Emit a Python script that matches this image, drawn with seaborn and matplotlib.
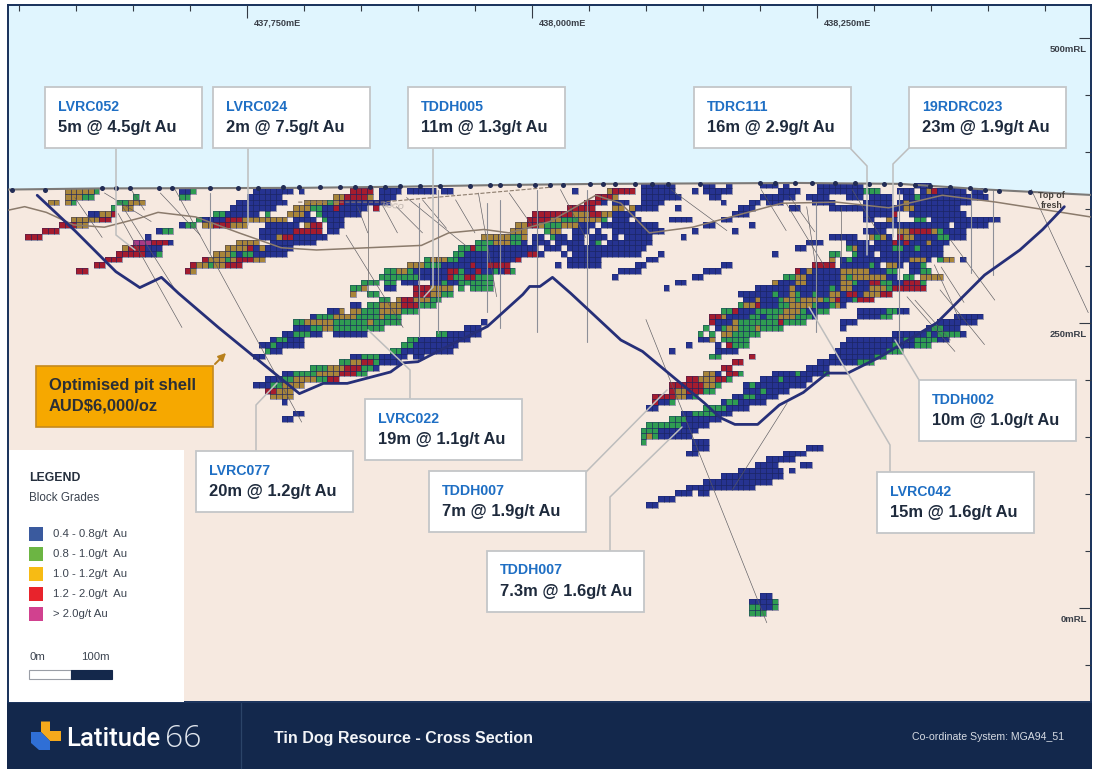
"""
Tin Dog resource cross section: block grades, pit shell, drill traces and callouts.
"""
import numpy as np
import pandas as pd
import matplotlib
matplotlib.use('Agg')
import matplotlib.pyplot as plt
from matplotlib.collections import PolyCollection
from matplotlib.colors import ListedColormap
from matplotlib.patches import Polygon, Rectangle
from matplotlib.ticker import MultipleLocator
import seaborn as sns

W, H = 1101, 779

# ── section scale (mE / mRL), 5 m blocks ──
E_LEFT, E_RIGHT = 437540.4, 438490.4
RL_TOP, RL_BOTTOM = 528.9, -82.5
BLOCK_E0 = 437540.4
BLOCK_RL0 = 344.0
N_COLS, N_ROWS = 190, 78
ROW_SHIFT = 2

GRADE_CODES = 'bgorm'
GRADE_LABELS = ['0.4 - 0.8g/t  Au', '0.8 - 1.0g/t  Au', '1.0 - 1.2g/t  Au',
                '1.2 - 2.0g/t  Au', '> 2.0g/t Au']
BLOCK_COLORS = ['#263391', '#2f9c52', '#a8853a', '#a51c2e', '#a83a86']
LEGEND_COLORS = ['#3a5a9e', '#6cb543', '#f7bb14', '#e8232c', '#d1418f']

# ── blocks: (row, first column, grades; "." = no block) ──
lens_far_west = [
    (0, 10, 'ooooog'), (1, 10, 'ooogg'), (1, 22, 'g'), (2, 7, 'oo.og'), (2, 19, 'ggooo'),
    (3, 18, 'g.oo'), (4, 14, 'bboor'), (5, 11, 'ooooorr'), (6, 9, 'rrroo'),
    (7, 6, 'rrr'), (8, 3, 'rrr'),
    (7, 26, 'bgg'), (8, 24, 'b'), (9, 22, 'mmmrrrb'), (10, 20, 'orrrbbb'),
    (11, 19, 'rrrrrbbg'), (12, 17, 'rrr'), (13, 15, 'rr'), (14, 12, 'rr'),
]
lens_hanging_wall = [
    (0, 30, 'bbg'), (0, 43, 'bbbbbbb.b'), (0, 60, 'rrrr'), (0, 65, 'bbbb'), (0, 70, 'bbbbb.bb'),
    (1, 30, 'gg'), (1, 42, 'bbbbbb'), (1, 57, 'oorrrro'), (1, 65, 'bbb'),
    (2, 40, 'bbbbbbbbb'), (2, 52, 'oooogorbbbbbbbb'),
    (3, 39, 'bbbbbbbb'), (3, 50, 'oooggbbrbbbbb.r'),
    (4, 36, 'gg'), (4, 38, 'bbbbbb.g'), (4, 49, 'ooob.gbbbbbbb'),
    (5, 33, 'gbbbb'), (5, 38, 'rrrooo'), (5, 44, 'ooooo'), (5, 50, 'bbbb.gbbb'),
    (6, 30, 'bgg'), (6, 34, 'oorrr'), (6, 39, 'ooo'), (6, 45, 'bbbbbb'), (6, 52, 'orr'), (6, 56, 'bbb'),
    (7, 44, 'bbbbbb'), (7, 50, 'rrrrr'), (7, 56, 'bb'),
    (8, 44, 'bbb'), (8, 47, 'orr'), (8, 50, 'bbbbbb'),
    (9, 40, 'oooo'), (9, 46, 'bbbbbbbb'),
    (10, 38, 'oooorb'), (10, 44, 'obbbbb'),
    (11, 36, 'ooogbggbbbbbb'), (12, 34, 'rooogorrroo'), (13, 32, 'roogoorrr'), (14, 31, 'ro'),
]
lens_main_west = [
    (0, 105, 'orrrr'), (1, 103, 'rrro'), (2, 101, 'rrrb'), (2, 106, 'bbb'),
    (3, 98, 'rrrrr'), (3, 106, 'oo'), (3, 109, 'o'),
    (4, 92, 'rrrrrrrooorr'), (4, 104, 'oo'), (4, 106, 'bbbb'),
    (5, 91, 'rrrroogggoooog'), (5, 106, 'bbb'),
    (6, 89, 'oorrogggooobbb.bb'), (6, 106, 'bbbbbbbb'),
    (7, 88, 'ooo'), (7, 94, 'goo'), (7, 99, 'bbb.b'), (7, 106, 'bbbbbbbbb'),
    (8, 83, 'oooooggo'), (8, 92, 'bb'), (8, 95, 'gbb.bb.bbb.b'), (8, 108, 'bbbbb'),
    (9, 82, 'gggoooggb.bbb.bbbbb.b'), (9, 103, 'g'), (9, 105, 'bbbbbbbb'),
    (10, 79, 'ggrggbbbbbbbbb.bbb.bbbbbbbbbbbbbb'),
    (11, 78, 'ggbbbbbbbbbbbrrb'), (11, 97, 'b.bbbbbbbbbbbb'), (11, 114, 'b'),
    (12, 73, 'goooggbbbbbbbbbbr'), (12, 98, 'bbbbbb'), (12, 112, 'bb'),
    (13, 70, 'ooogggbbbbbrbbrrrr'), (13, 96, 'b'), (13, 98, 'bbbbbb'), (13, 110, 'bb'), (13, 125, 'bb'),
    (14, 66, 'ggoogbbbbbbrrgbbrbbgbrg'), (14, 107, 'bbbb'), (14, 122, 'bbb'),
    (15, 65, 'gggggggbbbbbrggrrggg'), (15, 106, 'b'), (15, 120, 'bb'),
    (16, 62, 'ggg.gg.bbb..bbgbbgggggg'), (16, 117, 'bb'),
    (17, 60, 'ggo...bb...rrroooo.g.gggg'), (17, 115, 'b'),
    (18, 60, 'o'), (18, 63, 'gg'), (18, 71, 'rrroogg'),
    (19, 65, 'gg.orrooogg..'),
    (20, 60, 'bb.ggoooorrrggg'), (21, 56, 'bbo.oogggooooggg'),
    (22, 53, 'bgggooooggggoggg'), (23, 50, 'ggoooooggggggoggggg'),
    (24, 50, 'bbbggooggggggggg'), (25, 48, 'bbgggbb..bbbbbb'),
    (26, 46, 'bggbbb'), (27, 44, 'bbgbbbbb'), (28, 45, 'gbb'), (29, 43, 'bb'),
]
lens_footwall_west = [
    (23, 83, 'b'), (24, 80, 'bbb'), (25, 75, 'ggbbbbbb'), (26, 70, 'ggbbbbbbbbb'),
    (27, 69, 'ggbbbbbbbb'), (28, 67, 'ggbbbbbbbbb'), (29, 60, 'bbgggbbbbb.bb'),
    (30, 58, 'ggoorrgbbbb'), (31, 53, 'gggooorrrggb'), (32, 48, 'bbggggoooorrrgg'),
    (33, 45, 'bbbggooooggrr'), (34, 43, 'bbbggoooo'), (35, 45, 'rrooo'), (36, 46, 'oooo'),
    (37, 48, 'b'), (39, 50, 'bb'), (40, 48, 'bb'),
]
zone_east_top = [
    (-1, 111, 'bbbbbb'), (-1, 122, 'bb'), (-1, 126, 'b'), (-1, 132, 'bbb'), (-1, 136, 'b'),
    (-1, 142, 'bbbbbbbb'), (-1, 159, 'bbb'),
    (0, 99, 'b'), (0, 111, 'bbbbbb'), (0, 120, 'b'), (0, 122, 'bbbbb'), (0, 135, 'bbbb'),
    (0, 142, 'bbbbbbbb'), (0, 150, 'ggg'), (0, 156, 'bbb'), (0, 160, 'bor'), (0, 163, 'bbbbb.bb'),
    (1, 111, 'bbbbbb'), (1, 117, 'b'), (1, 123, 'bb'), (1, 132, 'bbbbbb'), (1, 140, 'bbbb'),
    (1, 147, 'bbb.b'), (1, 151, 'bbbb'), (1, 157, 'bbgbb'), (1, 162, 'bbbbbbbbbb'),
    (2, 106, 'bbb'), (2, 111, 'bbbb'), (2, 125, 'b'), (2, 130, 'bb'), (2, 133, 'bbb'),
    (2, 141, 'bbbb'), (2, 150, 'bbbbb.bbo'), (2, 157, 'ob'), (2, 159, 'bbbbbbb'), (2, 166, 'bbb'),
    (3, 110, 'bbbb'), (3, 117, 'b'), (3, 128, 'bbb'), (3, 137, 'bb'), (3, 144, 'bbbbbbb'),
    (3, 151, 'bbbbbb'), (3, 157, 'oo'), (3, 159, 'bbbbbbbb'),
    (4, 106, 'bbbb'), (4, 127, 'bbb'), (4, 150, 'bbbbb'), (4, 155, 'r'), (4, 158, 'bbbbbbbbbb'),
    (5, 106, 'bb'), (5, 110, 'b'), (5, 116, 'bbbb'), (5, 125, 'bb'), (5, 150, 'bb'), (5, 154, 'ob'),
    (5, 159, 'gg'), (5, 162, 'bbbbbbbb'), (5, 170, 'bbbb'),
    (6, 122, 'bb'), (6, 130, 'b'), (6, 152, 'bbbbbbbbbbbbb'), (6, 166, 'bbbbbb'),
    (7, 120, 'b'), (7, 127, 'b'), (7, 150, 'bbbb'), (7, 156, 'oorrrrog'), (7, 164, 'bbbb'),
    (8, 118, 'b'), (8, 144, 'bbbbb'), (8, 151, 'ogob'), (8, 156, 'roobbbb'), (8, 163, 'ggbbb'),
    (9, 140, 'bbb'), (9, 147, 'bbbb'), (9, 152, 'bbb'), (9, 155, 'rbrbbbob'), (9, 163, 'bb'),
    (10, 138, 'bb'), (10, 147, 'gobb'), (10, 151, 'bbbbggbbgbbbb'),
    (11, 134, 'b'), (11, 144, 'gg'), (11, 148, 'gbbb'), (11, 153, 'bbbbbbbbbb'), (11, 163, 'b'),
]
lens_main_east = [
    (12, 144, 'o.bgbbbbbbbbbbooob.g'), (12, 164, 'oo'), (12, 167, 'b'),
    (13, 141, 'rrrr.bbbbbgb.oob.bbg'), (14, 138, 'rbobbbbbooooobbbgg..bbgg'),
    (15, 136, 'ggoobbbbbbogoooooobb.gg.oooo'),
    (16, 134, 'obbboobbbbbboogbbrrggbbrrrg'),
    (17, 131, 'bbbbbbobbbbbbgboobbbooogrrrrrr'),
    (18, 128, 'bbbbbbgbbogbbgbboobrrbooorr'),
    (19, 129, 'bbobbbgoogoooogorbbgrrr'),
    (20, 128, 'goorbbbggoooogbbgob'),
    (21, 125, 'ggrbbbgggggooogbbgg'), (21, 149, 'bbbbbggbb'),
    (22, 123, 'rrobbbbggbggooogggb'), (22, 149, 'bbbbgg'),
    (23, 123, 'rbbbogggggggrgggg'), (23, 146, 'bbb'),
    (24, 122, 'g.bgoogggogggg'), (24, 146, 'b'),
    (25, 121, 'g.g.ooggggg'), (26, 121, 'bbo.ggggg'),
    (27, 124, 'b.rggg'), (27, 119, 'b'), (28, 124, 'bbbb'), (28, 116, 'b'), (29, 123, 'gg'),
]
lens_red_pod = [
    (29, 130, 'r'), (30, 127, 'rr'), (31, 125, 'rr'), (32, 122, 'oob.rrg'),
    (33, 119, 'rrooorrg'), (34, 116, 'rrrrrroog'), (35, 116, 'roorrrgg'),
    (36, 113, 'rrrroobg'), (37, 113, 'rbbg'), (38, 112, 'bb'),
]
lens_footwall_east = [
    (22, 166, 'bbbbb'), (23, 163, 'bbbbbbb'), (24, 161, 'bggbbb'), (25, 155, 'bbbbbbgbggggb'),
    (26, 147, 'bbbbbbbbbbgbggggbb'), (27, 146, 'bbbbbbbbbgbbbggg'), (28, 145, 'bbbbbbbbbggg'),
    (29, 144, 'bbbbbbbbgg'), (30, 142, 'bbbbbbbggg'), (31, 140, 'bbbb'), (32, 134, 'bbbbgbbbbg'),
    (33, 132, 'bbbgbbbbb'), (34, 129, 'bgbbbbbbbbb'), (35, 129, 'bbbgbbbb'), (36, 127, 'bbggbbbb'),
    (37, 125, 'bggbbbbb'), (38, 122, 'ggggbbbb'), (39, 118, 'bbggggbbb'), (40, 116, 'gggbbbbbb'),
    (41, 112, 'ggggggbbbbb'), (42, 111, 'gggbbbbbbb'), (43, 111, 'gogbbbbbb'), (44, 111, 'g'),
    (44, 120, 'bbb'), (45, 120, 'bbb'), (46, 119, 'bb'),
]
lens_deep = [
    (45, 140, 'bbb'), (46, 136, 'bbbb'), (47, 133, 'bbbbb'), (48, 131, 'bbbb'), (48, 139, 'bb'),
    (49, 128, 'bbbbbbbb'), (49, 137, 'b'), (50, 125, 'bbbbbbbbbbb'), (51, 122, 'bbbbbbbbbbbb'),
    (52, 119, 'bbbbbbbbbbbb'), (53, 117, 'bbb'), (53, 121, 'bb'), (54, 114, 'bbb'), (55, 112, 'bb'),
    (71, 132, 'bb'), (72, 130, 'bbbbg'), (73, 130, 'ggbbg'), (74, 130, 'ggg'),
]
ALL_LENSES = [lens_far_west, lens_hanging_wall, lens_main_west, lens_footwall_west,
              zone_east_top, lens_main_east, lens_red_pod, lens_footwall_east, lens_deep]

# ── section lines ──
pit_e = [437566, 437599, 437635, 437656, 437675, 437690, 437725, 437796, 437817, 437838,
         437876, 437887, 437900, 437931, 437961, 437992, 437998, 438007, 438018, 438034,
         438078, 438097, 438151, 438165, 438178, 438198, 438217, 438238, 438259, 438277,
         438305, 438355, 438397, 438428, 438448, 438467]
pit_rl = [362, 331, 295, 281, 290, 276, 246, 188, 197, 197,
          207, 215, 216, 232, 247, 275, 282, 282, 290, 276,
          235, 225, 180, 167, 161, 161, 178, 189, 206, 206,
          220, 250, 292, 314, 332, 352]
surface_e = [437540, 437621, 437796, 437884, 437972, 438060, 438235, 438323, 438399, 438490]
surface_rl = [367, 368, 368.5, 369.5, 371, 372, 372.8, 372, 367, 362.3]
fresh_e = [437541, 437555, 437574, 437598, 437625, 437656, 437672, 437705, 437743, 437780,
           437811, 437903, 437927, 437958, 437980, 438016, 438056, 438078, 438103, 438141,
           438219, 438267, 438313, 438360, 438407, 438490]
fresh_rl = [349, 352, 347, 336, 334, 342, 347, 343, 329, 316,
            314, 318, 329, 332, 329, 339, 362, 355, 329, 334,
            355, 356, 351, 362, 356, 343]
boco_e = [437795, 437868, 438016]
boco_rl = [356, 356, 369]

collar_e = [437544, 437573, 437623, 437635, 437647, 437673, 437684, 437718, 437742, 437760,
            437782, 437796, 437814, 437832, 437845, 437858, 437871, 437884, 437902, 437919,
            437946, 437963, 437972, 437989, 438003, 438016, 438027, 438051, 438062, 438073,
            438090, 438105, 438119, 438147, 438200, 438213, 438231, 438246, 438266, 438283,
            438296, 438309, 438323, 438336, 438349, 438367, 438384, 438397, 438410, 438437]
collar_rl = [367, 367, 368, 368, 368, 368, 368, 368, 368, 368,
             369, 369, 369, 369, 369, 369, 369, 370, 370, 370,
             370, 371, 371, 371, 371, 371, 371, 372, 372, 372,
             372, 372, 372, 372, 373, 373, 373, 373, 373, 373,
             372, 372, 372, 371, 370, 369, 368, 367, 366, 365]

# dark thin drill traces: collar and toe
hole_e0 = [437599, 437625, 437637, 437649, 437641, 437687, 437674, 437881, 437868, 437847,
           437837, 437953, 437904, 437933, 437980, 437890, 438025, 438100, 438122, 438201,
           438223, 438241, 438271, 438438, 438329, 438359, 438224, 437856,
           438226, 438281, 438353, 438367, 438358, 438336]
hole_rl0 = [360, 364, 346, 366, 352, 367, 364, 352, 355, 352,
            327, 364, 358, 358, 364, 360, 367, 253, 367, 367,
            355, 352, 352, 367, 273, 299, 180, 355,
            361, 367, 301, 323, 279, 270]
hole_e1 = [437623, 437666, 437693, 437660, 437687, 437798, 437709, 437904, 437882, 437856,
           437887, 437969, 437925, 437950, 438001, 437943, 438047, 438206, 438171, 438223,
           438257, 438249, 438271, 438488, 438371, 438379, 438176, 437856,
           438248, 438305, 438375, 438406, 438397, 438367]
hole_rl1 = [325, 339, 246, 349, 279, 163, 327, 329, 329, 329,
            246, 273, 333, 329, 334, 317, 325, -13, 331, 331,
            299, 299, 303, 259, 225, 268, 104, 273,
            330, 327, 253, 270, 231, 235]
# grey vertical traces
grey_e = [437718, 437901, 437918, 437961, 437972, 438004, 438048, 438249, 438322, 438385, 438404]
grey_rl0 = [364, 355, 367, 355, 358, 367, 367, 355, 367, 367, 367]
grey_rl1 = [311, 238, 241, 260, 246, 242, 233, 242, 232, 294, 292]

# ── callouts ──
callout_ids = ['LVRC052', 'LVRC024', 'TDDH005', 'TDRC111', '19RDRC023', 'LVRC022',
               'LVRC077', 'TDDH002', 'LVRC042', 'TDDH007', 'TDDH007']
callout_values = ['5m @ 4.5g/t Au', '2m @ 7.5g/t Au', '11m @ 1.3g/t Au', '16m @ 2.9g/t Au',
                  '23m @ 1.9g/t Au', '19m @ 1.1g/t Au', '20m @ 1.2g/t Au', '10m @ 1.0g/t Au',
                  '15m @ 1.6g/t Au', '7m @ 1.9g/t Au', '7.3m @ 1.6g/t Au']
callout_left = [45, 213, 408, 694, 909, 365, 196, 919, 877, 429, 487]
callout_top = [87, 87, 87, 87, 87, 399, 451, 380, 472, 471, 551]
leader_x = [[116, 116, 135], [248, 248], [433, 433, 424], [850, 867, 867], [909, 893, 893],
            [410, 410, 368], [256, 256, 277], [919, 895], [890, 890, 809], [585, 667], [610, 610, 682]]
leader_y = [[148, 235, 250], [148, 225], [148, 287, 297], [148, 166, 255], [148, 164, 237],
            [399, 370, 330], [451, 405, 383], [380, 340], [472, 445, 307], [473, 390], [551, 497, 427]]


def px_axes(fig, left, top, right, bottom, **kw):
    return fig.add_axes([left / W, 1 - bottom / H, (right - left) / W, (bottom - top) / H], **kw)


def build_grid():
    grid = np.full((N_ROWS, N_COLS), np.nan)
    for lens in ALL_LENSES:
        for row, col, codes in lens:
            for i, code in enumerate(codes):
                if code != '.' and col + i < N_COLS:
                    grid[row + ROW_SHIFT, col + i] = GRADE_CODES.index(code)
    rl = BLOCK_RL0 + 5 * (ROW_SHIFT - np.arange(N_ROWS))
    e = BLOCK_E0 + 5 * np.arange(N_COLS)
    return pd.DataFrame(grid, index=rl, columns=e)


sns.set_theme(style='white')
plt.rcParams['font.family'] = ['Liberation Sans', 'DejaVu Sans']

fig = plt.figure(figsize=(W / 100, H / 100), dpi=100, facecolor='white')

# background section: sky, ground, graticule
ax = px_axes(fig, 8, 5, 1091, 702, zorder=1)
ax.set_facecolor('#f6e9e0')
ax.set_axisbelow(False)
ax.set_xlim(E_LEFT, E_RIGHT)
ax.set_ylim(RL_BOTTOM, RL_TOP)
ax.fill_between(surface_e, surface_rl, RL_TOP, color='#e0f5fe', lw=0)
ax.xaxis.set_major_locator(MultipleLocator(250))
ax.xaxis.set_minor_locator(MultipleLocator(50))
ax.yaxis.set_major_locator(MultipleLocator(250))
ax.yaxis.set_minor_locator(MultipleLocator(50))
ax.xaxis.set_ticks_position('top')
ax.yaxis.set_ticks_position('right')
ax.tick_params(axis='both', which='both', direction='in', color='#333a44', width=0.8,
               labeltop=False, labelbottom=False, labelleft=False, labelright=False)
ax.tick_params(axis='both', which='major', length=9)
ax.tick_params(axis='both', which='minor', length=4)
for spine in ax.spines.values():
    spine.set_color('#17305a')
    spine.set_linewidth(1.4)
for easting in [437750, 438000, 438250]:
    ax.annotate(f'{easting:,}mE', (easting, RL_TOP), xytext=(5, -15), textcoords='offset points',
                fontsize=6.6, fontweight='bold', color='#3a3f48')
for level in [500, 250, 0]:
    ax.annotate(f'{level}mRL', (E_RIGHT, level), xytext=(-3, -8.5), textcoords='offset points',
                fontsize=6.8, fontweight='bold', color='#3a3f48', ha='right', va='center')

# 5 m block model
ax_blocks = px_axes(fig, 8, 188.3 - 5.7 * ROW_SHIFT, 8 + 5.7 * N_COLS,
                    188.3 + 5.7 * (N_ROWS - ROW_SHIFT), zorder=2)
grid_df = build_grid()
sns.heatmap(grid_df, ax=ax_blocks, cmap=ListedColormap(BLOCK_COLORS), vmin=-0.5, vmax=4.5,
            cbar=False, xticklabels=False, yticklabels=False)
ax_blocks.patch.set_alpha(0)
ax_blocks.set_xlabel('')
ax_blocks.set_ylabel('')
# dark outline only on the cells that hold a block
rows, cols = np.nonzero(grid_df.notna().to_numpy())
outlines = [[(c, r), (c + 1, r), (c + 1, r + 1), (c, r + 1)] for r, c in zip(rows, cols)]
ax_blocks.add_collection(PolyCollection(outlines, facecolors='none', edgecolors='#1c2560',
                                        linewidths=0.4, alpha=0.75))

# lines over the blocks
ax_lines = px_axes(fig, 8, 5, 1091, 702, zorder=3)
ax_lines.patch.set_alpha(0)
ax_lines.set_axis_off()
for x0, y0, x1, y1 in zip(hole_e0, hole_rl0, hole_e1, hole_rl1):
    ax_lines.plot([x0, x1], [y0, y1], color='#5a5a60', lw=0.45)
for x0, y0, y1 in zip(grey_e, grey_rl0, grey_rl1):
    ax_lines.plot([x0, x0], [y0, y1], color='#8d8f98', lw=0.8)
sns.lineplot(x=fresh_e, y=fresh_rl, sort=False, estimator=None, ax=ax_lines, color='#8b7b6c', lw=1.1)
sns.lineplot(x=boco_e, y=boco_rl, sort=False, estimator=None, ax=ax_lines, color='#8b7b6c', lw=0.8, ls='--')
sns.lineplot(x=surface_e, y=surface_rl, sort=False, estimator=None, ax=ax_lines, color='#7d7a78', lw=1.5)
sns.lineplot(x=pit_e, y=pit_rl, sort=False, estimator=None, ax=ax_lines, color='#262f78', lw=2.0)
sns.scatterplot(x=collar_e, y=collar_rl, ax=ax_lines, s=13, color='#222c55', linewidth=0, zorder=6)
ax_lines.set_xlim(E_LEFT, E_RIGHT)
ax_lines.set_ylim(RL_BOTTOM, RL_TOP)
ax_lines.text(437878, 352, 'BOCO', fontsize=5.5, color='#b5aca6', rotation=-6, ha='center', va='center',
              fontstyle='italic')
ax_lines.text(438456, 357.5, 'Top of\nfresh', fontsize=6.4, color='#44403c', ha='center', va='center',
              fontweight='bold', linespacing=1.1)

# page furniture in pixels
over = fig.add_axes([0, 0, 1, 1], zorder=5)
over.set_xlim(0, W)
over.set_ylim(H, 0)
over.set_axis_off()
over.patch.set_alpha(0)

for xs, ys in zip(leader_x, leader_y):
    over.plot(xs, ys, color='#bdbdbd', lw=1.1, solid_joinstyle='miter')
for name, value, left, top in zip(callout_ids, callout_values, callout_left, callout_top):
    over.add_patch(Rectangle((left, top), 157, 60.5, fc='white', ec='#c4c6c8', lw=1.3, zorder=4))
    over.text(left + 13, top + 19.5, name, fontsize=10.2, fontweight='bold', color='#1f6fc4',
              va='center', zorder=5)
    over.text(left + 13, top + 40.5, value, fontsize=11.9, fontweight='bold', color='#1e2a3c',
              va='center', zorder=5)

over.add_patch(Rectangle((36, 366), 177, 61, fc='#f6a800', ec='#c58a1e', lw=1.2, zorder=4))
over.text(49, 385, 'Optimised pit shell', fontsize=11.9, fontweight='bold', color='#2b2f36', va='center', zorder=5)
over.text(49, 406, 'AUD$6,000/oz', fontsize=11.9, fontweight='bold', color='#2b2f36', va='center', zorder=5)
over.annotate('', xy=(228, 351), xytext=(213, 366),
              arrowprops=dict(arrowstyle='-|>', color='#b8801c', lw=1.4, mutation_scale=11))

# legend panel
over.add_patch(Rectangle((9, 450), 175, 252, fc='white', ec='none'))
over.text(29, 477.5, 'LEGEND', fontsize=8.8, fontweight='bold', color='#26303e', va='center')
over.text(29, 498, 'Block Grades', fontsize=8.4, color='#3c4450', va='center')
for i, (label, color) in enumerate(zip(GRADE_LABELS, LEGEND_COLORS)):
    over.add_patch(Rectangle((29, 526.5 + 20 * i), 14, 14, fc=color, ec='none'))
    over.text(53, 534 + 20 * i, label, fontsize=8.2, color='#3c4450', va='center')
over.text(29, 657, '0m', fontsize=8.2, color='#3c4450', va='center')
over.text(81, 657, '100m', fontsize=8.2, color='#3c4450', va='center')
over.add_patch(Rectangle((29, 669.5), 41.5, 9, fc='white', ec='#9a9ea6', lw=0.8))
over.add_patch(Rectangle((70.5, 669.5), 41.5, 9, fc='#14284b', ec='#14284b', lw=0.8))

# footer band
over.add_patch(Rectangle((7, 702.5), 1084.5, 66, fc='#13284c', ec='none'))
over.plot([241, 241], [703, 768], color='#2b4468', lw=0.9)
over.add_patch(Polygon([(41, 721.5), (50, 721.5), (50, 731), (61, 731), (61, 741), (50, 741),
                        (41, 732)], fc='#f5a91c', ec='none'))
over.add_patch(Polygon([(31, 732), (41, 732), (50, 741), (50, 750), (39, 750), (31, 743)],
                       fc='#2f6fd6', ec='none'))
over.text(66, 739.5, 'Latitude', fontsize=18.5, fontfamily='Roboto', fontweight='medium', color='white', va='center')
over.text(165, 739, '66', fontsize=23, fontfamily='Open Sans', fontweight='light', color='#dfe4ec', va='center')
over.text(274, 738, 'Tin Dog Resource - Cross Section', fontsize=11.5, fontweight='bold', color='#f2f4f7', va='center')
over.text(1064, 737.5, 'Co-ordinate System: MGA94_51', fontsize=7.6, color='#d6dbe3', ha='right', va='center')

fig.savefig('out.png', dpi=100)
